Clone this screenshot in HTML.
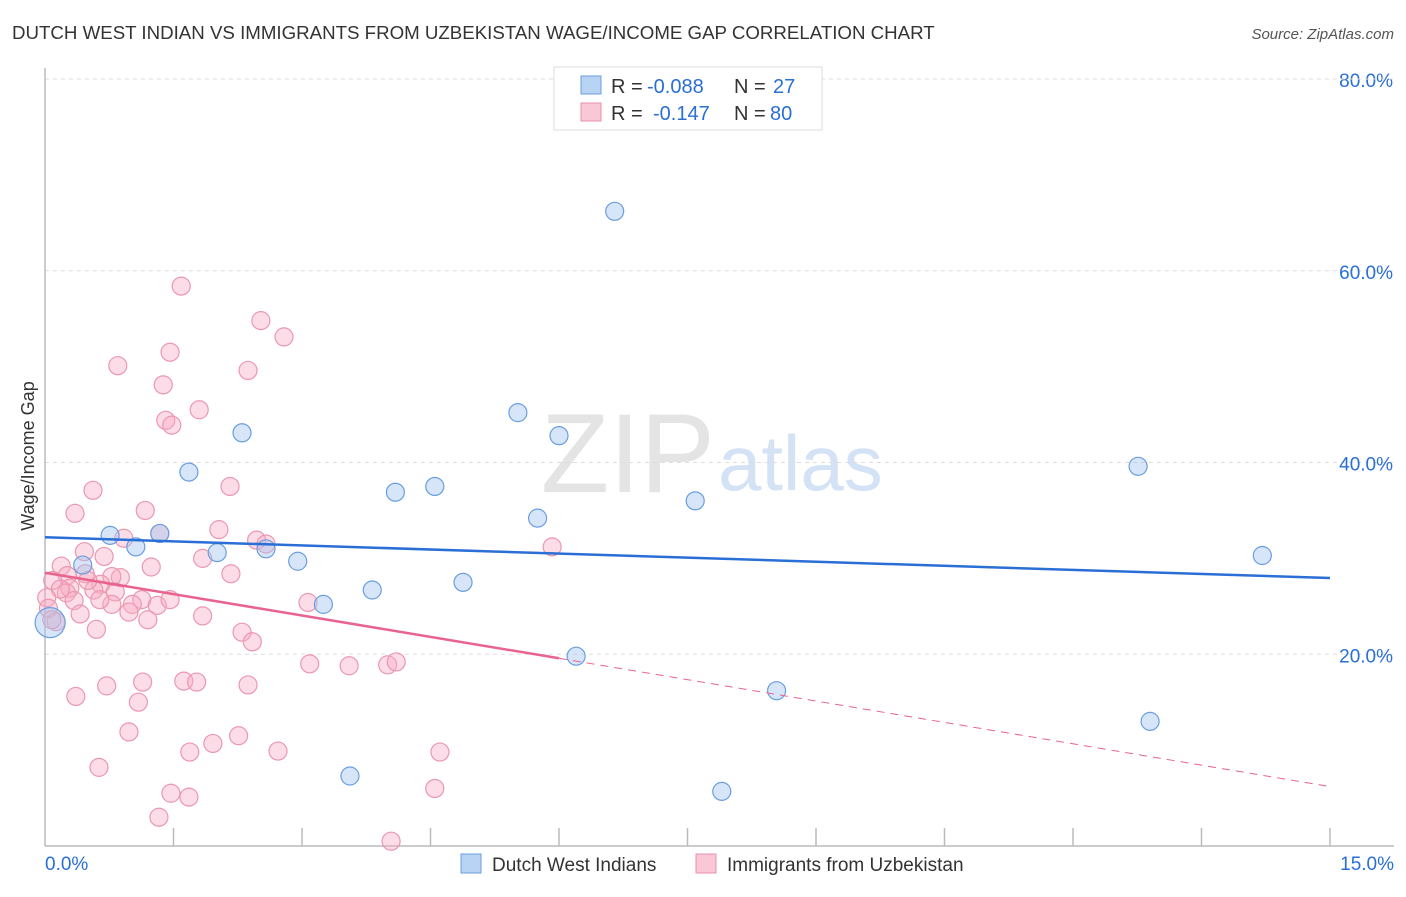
<!DOCTYPE html>
<html><head><meta charset="utf-8"><style>
body{margin:0;background:#fff;font-family:"Liberation Sans",sans-serif;}
svg text{font-family:"Liberation Sans",sans-serif;}
</style></head><body>
<svg id="chart" width="1406" height="892">
<text x="12" y="39" font-size="18.7" fill="#333">DUTCH WEST INDIAN VS IMMIGRANTS FROM UZBEKISTAN WAGE/INCOME GAP CORRELATION CHART</text>
<text x="1394" y="39" font-size="15" fill="#555" text-anchor="end" font-style="italic">Source: ZipAtlas.com</text>
<text x="715" y="492" font-size="112" fill="#e4e4e4" text-anchor="end" font-family="Liberation Serif">ZIP</text>
<text x="718" y="490" font-size="78" fill="#d3e2f5">atlas</text>
<g id="grid"></g><g id="axes"></g><g id="pts"></g><g id="trend"></g>
<text transform="translate(34,456) rotate(-90)" font-size="18" fill="#333" text-anchor="middle">Wage/Income Gap</text>
<g>
<rect x="554" y="67" width="268" height="63" fill="#fff" stroke="#ddd"/>
<rect x="581" y="76" width="20" height="18" fill="#b9d3f5" stroke="#6a9ee0"/>
<rect x="581" y="103" width="20" height="18" fill="#f9c7d5" stroke="#e890a8"/>
<text x="611" y="93" font-size="20" fill="#333">R =</text>
<text x="647" y="93" font-size="20" fill="#2a6fd6">-0.088</text>
<text x="734" y="93" font-size="20" fill="#333">N =</text>
<text x="773" y="93" font-size="20" fill="#2a6fd6">27</text>
<text x="611" y="120" font-size="20" fill="#333">R =</text>
<text x="653" y="120" font-size="20" fill="#2a6fd6">-0.147</text>
<text x="734" y="120" font-size="20" fill="#333">N =</text>
<text x="770" y="120" font-size="20" fill="#2a6fd6">80</text>
</g>
<g>
<rect x="461" y="854" width="20" height="19" fill="#b9d3f5" stroke="#6a9ee0"/>
<text x="492" y="871" font-size="19" fill="#333">Dutch West Indians</text>
<rect x="696" y="854" width="20" height="19" fill="#f9c7d5" stroke="#e890a8"/>
<text x="727" y="871" font-size="19" fill="#333">Immigrants from Uzbekistan</text>
</g>
</svg>
<script>
const yTicks=[20,40,60,80];
const yTickLabels=["20.0%","40.0%","60.0%","80.0%"];
const xEndLabels=["0.0%","15.0%"];
const blueX=[6.65,5.52,6.0,2.3,1.68,4.09,4.55,7.59,5.75,0.76,1.06,1.34,2.01,2.58,2.95,3.82,4.88,3.25,6.2,8.54,12.76,14.21,12.9,3.56,7.9,0.44,0.06];
const blueY=[66.2,45.2,42.8,43.1,39.0,36.9,37.5,36.0,34.2,32.4,31.2,32.6,30.6,31.0,29.7,26.7,27.5,25.2,19.8,16.2,39.6,30.3,13.0,7.3,5.7,29.3,23.3];
const pinkX=[1.59,2.52,2.79,1.46,0.85,2.37,1.38,1.80,1.41,1.48,2.16,0.56,0.35,1.17,1.34,2.03,0.92,2.47,2.58,5.92,0.46,0.69,1.84,0.19,1.24,2.17,0.26,0.47,0.88,0.78,0.09,0.65,0.29,0.82,0.57,0.25,1.13,0.02,1.02,1.31,0.78,0.34,3.07,0.04,0.41,0.98,1.20,0.60,0.13,2.30,2.42,1.84,3.09,3.55,4.0,4.10,0.36,0.72,1.14,1.62,1.77,2.37,1.09,0.98,2.26,1.96,1.69,2.72,4.61,0.63,1.47,1.68,4.55,1.33,4.04,0.08,0.18,0.64,1.46,0.50];
const pinkY=[58.4,54.8,53.1,51.5,50.1,49.6,48.1,45.5,44.4,43.9,37.5,37.1,34.7,35.0,32.6,33.0,32.1,31.9,31.5,31.2,30.7,30.2,30.0,29.2,29.1,28.4,28.2,28.4,28.0,28.1,27.7,27.3,26.9,26.5,26.7,26.4,25.7,25.9,25.2,25.1,25.2,25.6,25.4,24.8,24.2,24.4,23.6,22.6,23.4,22.3,21.3,24.0,19.0,18.8,18.9,19.2,15.6,16.7,17.1,17.2,17.1,16.8,15.0,11.9,11.5,10.7,9.8,9.9,9.8,8.2,5.5,5.1,6.0,3.0,0.5,23.6,26.8,25.7,25.7,27.7];
const blueTrend=[32.2,27.95];
const pinkTrend=[28.5,6.2];
const pinkSolidEnd=6.0;
const NS="http://www.w3.org/2000/svg";
const X0=45,X1=1330,Y0=846,YPER=9.5875;
const sx=v=>X0+(v/15)*(X1-X0);
const sy=v=>Y0-v*YPER;
function mk(tag,attrs,parent){const e=document.createElementNS(NS,tag);for(const k in attrs)e.setAttribute(k,attrs[k]);document.getElementById(parent).appendChild(e);return e;}
yTicks.forEach((t,i)=>{
 const l=mk('line',{x1:X0,x2:1394,y1:sy(t),y2:sy(t),stroke:'#ddd','stroke-dasharray':'4,4'},'grid');
 
 
 const tx=mk('text',{x:1393,y:sy(t)+8,'font-size':19,fill:'#2a6fd6','text-anchor':'end'},'grid');
 tx.textContent=yTickLabels[i];
 
 
});
const topGrid=mk('line',{x1:X0,x2:1394,y1:79,y2:79,stroke:'#ddd','stroke-dasharray':'4,4'},'grid');


const ya=mk('line',{x1:X0,x2:X0,y1:68,y2:Y0,stroke:'#bbb','stroke-width':1.5},'axes');


const xa=mk('line',{x1:X0,x2:1394,y1:Y0,y2:Y0,stroke:'#bbb','stroke-width':1.5},'axes');


for(let i=1;i<=10;i++){
 const t=mk('line',{x1:sx(i*1.5),x2:sx(i*1.5),y1:828,y2:Y0,stroke:'#bbb','stroke-width':1.5},'axes');
 
 
}
const xl0=mk('text',{x:45,y:870,'font-size':19,fill:'#2a6fd6'},'axes');xl0.textContent=xEndLabels[0];


const xl1=mk('text',{x:1394,y:870,'font-size':19,fill:'#2a6fd6','text-anchor':'end'},'axes');xl1.textContent=xEndLabels[1];


pinkX.forEach((x,i)=>{
 const c=mk('circle',{cx:sx(x),cy:sy(pinkY[i]),r:9,fill:'rgba(247,170,195,0.4)',stroke:'#eb97b0','stroke-width':1.2},'pts');
 
 
});
blueX.forEach((x,i)=>{
 const c=mk('circle',{cx:sx(x),cy:sy(blueY[i]),r:i===blueX.length-1?15:9,fill:'rgba(165,198,240,0.45)',stroke:'#6a9ee0','stroke-width':1.2},'pts');
 
 
});
const bt=mk('line',{x1:sx(0),y1:sy(blueTrend[0]),x2:sx(15),y2:sy(blueTrend[1]),stroke:'#2a6fd6','stroke-width':2.5},'trend');


const pm=pinkTrend[0]+(pinkTrend[1]-pinkTrend[0])*pinkSolidEnd/15;
const pt=mk('line',{x1:sx(0),y1:sy(pinkTrend[0]),x2:sx(pinkSolidEnd),y2:sy(pm),stroke:'#e8648e','stroke-width':2.5},'trend');


const pd=mk('line',{x1:sx(pinkSolidEnd),y1:sy(pm),x2:sx(15),y2:sy(pinkTrend[1]),stroke:'#e8648e','stroke-width':1,'stroke-dasharray':'8,6'},'trend');


</script>
</body></html>
